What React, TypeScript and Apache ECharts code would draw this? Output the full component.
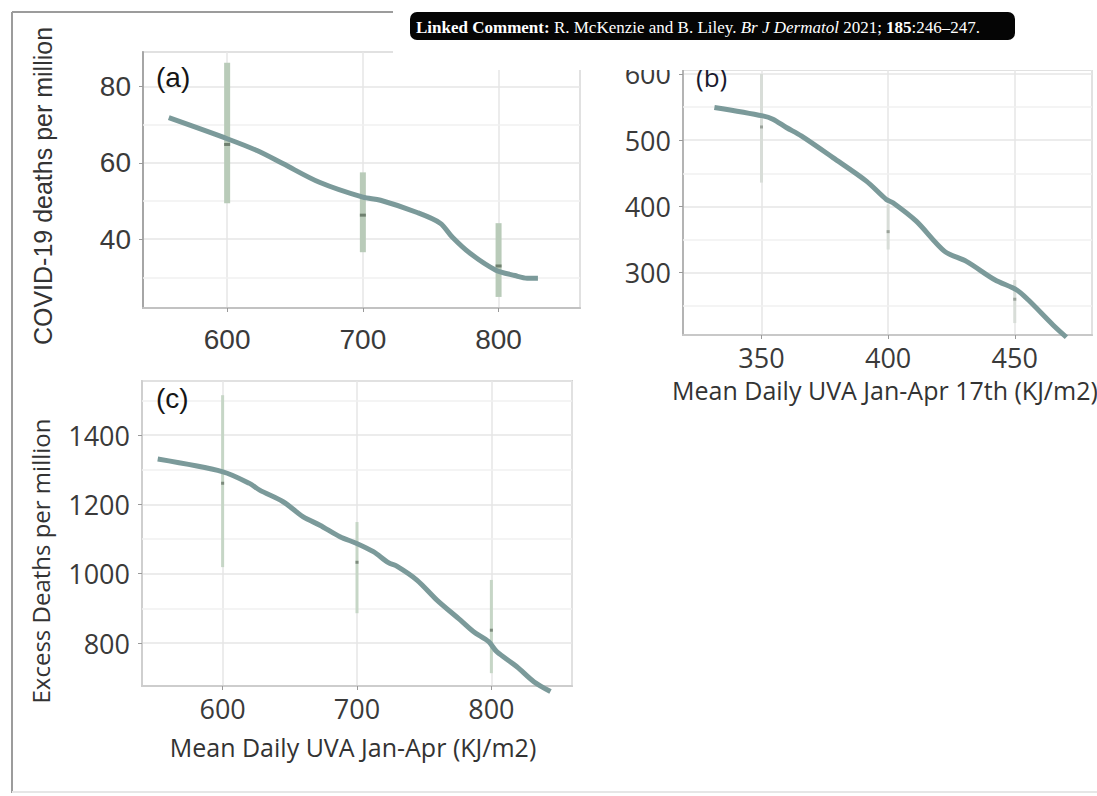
import React, { useEffect, useRef } from "react";
import * as echarts from "echarts";

// ---- Data ----
// Panel (a): COVID-19 deaths per million vs mean daily UVA Jan-Apr
const curveA: number[][] = [
  [557, 71.8], [600, 66.3], [622, 63.2], [641, 59.8], [668, 54.9], [700, 51.0],
  [713, 50.2], [740, 47.0], [757, 44.2], [766, 40.5], [779, 36.3], [798, 31.9],
  [812, 30.5], [821, 29.8], [829, 29.8],
];
// [x, low, high, mean]
const barsA: number[][] = [
  [600, 49.4, 86.2, 64.8],
  [700, 36.6, 57.5, 46.3],
  [800, 24.9, 44.2, 33.0],
];
const minorA = [30, 50, 70];

// Panel (b): vs mean daily UVA Jan-Apr 17th
const curveB: number[][] = [
  [331.4, 549.5], [350.5, 536.8], [354.5, 531.8], [359.8, 519.2], [365.7, 506.5],
  [378.2, 473.8], [391.4, 438.3], [399.3, 410.6], [401.9, 405.6], [411.1, 377.8],
  [422.3, 332.3], [430.9, 317.1], [442.1, 289.4], [450.7, 274.2], [455.3, 259.1],
  [465.1, 221.2], [470.4, 202.6],
];
const barsB: number[][] = [
  [350, 436, 600, 520],
  [400, 335, 403, 362],
  [450, 224, 289, 260],
];
const minorB = [250, 350, 450, 550];

// Panel (c): Excess deaths per million vs mean daily UVA Jan-Apr
const curveC: number[][] = [
  [551.7, 1330.7], [600.2, 1294], [620, 1260.6], [627.6, 1241], [645, 1207.6],
  [660, 1164], [672.4, 1140], [687.3, 1106.6], [699.8, 1087.4], [712.2, 1063.4],
  [723.4, 1031.8], [729.6, 1022], [744.6, 981.7], [759.5, 924], [777, 866],
  [786.8, 832.6], [798, 803.8], [804, 775], [819, 731.7], [831.6, 688.5], [844, 660],
];
const barsC: number[][] = [
  [600, 1019, 1515, 1261],
  [700, 886, 1149, 1033],
  [800, 713, 982, 837],
];
const minorC = [900, 1100, 1300, 1500];

const titleA = "COVID-19 deaths per million";
const titleC = "Excess Deaths per million";
const xTitleB = "Mean Daily UVA Jan-Apr 17th (KJ/m2)";
const xTitleC = "Mean Daily UVA Jan-Apr (KJ/m2)";

const FA = "'Liberation Sans', Arial, sans-serif";
const FB = "'Open Sans', 'Noto Sans', sans-serif";
const CURVE = "#7b9a9a";

function errRender(width: number, color: string, mark: string) {
  return (_params: any, api: any) => {
    const x = api.value(0);
    const lo = api.coord([x, api.value(1)]);
    const hi = api.coord([x, api.value(2)]);
    const mid = api.coord([x, api.value(3)]);
    return {
      type: "group",
      children: [
        {
          type: "rect",
          shape: { x: lo[0] - width / 2, y: hi[1], width, height: lo[1] - hi[1] },
          style: { fill: color },
        },
        {
          type: "rect",
          shape: { x: mid[0] - width / 2, y: mid[1] - 1.5, width, height: 3 },
          style: { fill: mark },
        },
      ],
    };
  };
}

const plain = (v: number) => String(v);

function xAxis(gridIndex: number, min: number, max: number, font: string, size: number, margin: number, lineColor: string) {
  return {
    type: "value",
    gridIndex,
    min,
    max,
    splitNumber: 3,
    axisLine: { show: true, onZero: false, lineStyle: { color: lineColor, width: 2 } },
    axisTick: { show: true, length: 4, lineStyle: { color: "#9a9a9a" } },
    axisLabel: {
      showMinLabel: false,
      showMaxLabel: false,
      margin,
      color: "#3a3a3a",
      fontFamily: font,
      fontSize: size,
      formatter: plain,
    },
    splitLine: { show: true, lineStyle: { color: "#e6e6e6", width: 1.5 } },
  };
}

function yAxis(gridIndex: number, min: number, max: number, split: number, font: string, size: number, lineColor: string) {
  return {
    type: "value",
    gridIndex,
    min,
    max,
    splitNumber: split,
    axisLine: { show: true, onZero: false, lineStyle: { color: lineColor, width: 2 } },
    axisTick: { show: true, length: 4, lineStyle: { color: "#9a9a9a" } },
    axisLabel: {
      showMinLabel: false,
      showMaxLabel: false,
      margin: 12,
      color: "#3a3a3a",
      fontFamily: font,
      fontSize: size,
      formatter: plain,
    },
    splitLine: { show: true, lineStyle: { color: "#e6e6e6", width: 1.5 } },
  };
}

function minorLines(idx: number, values: number[]) {
  return {
    type: "line",
    xAxisIndex: idx,
    yAxisIndex: idx,
    data: [],
    silent: true,
    markLine: {
      silent: true,
      z: 1,
      symbol: "none",
      label: { show: false },
      lineStyle: { color: "#f1f1f1", width: 1.5, type: "solid" },
      data: values.map((v) => ({ yAxis: v })),
    },
  };
}

function curve(idx: number, data: number[][]) {
  return {
    type: "line",
    xAxisIndex: idx,
    yAxisIndex: idx,
    data,
    smooth: 0.3,
    showSymbol: false,
    clip: false,
    z: 4,
    lineStyle: { color: CURVE, width: 5 },
  };
}

function bars(idx: number, data: number[][], width: number, color: string, mark: string) {
  return {
    type: "custom",
    xAxisIndex: idx,
    yAxisIndex: idx,
    data,
    z: 3,
    encode: { x: 0, y: [1, 2] },
    renderItem: errRender(width, color, mark),
  };
}

const gridBase = { show: true, borderColor: "#d2d2d2", borderWidth: 2, backgroundColor: "transparent" };
const SERIF = "'Liberation Serif', 'Times New Roman', serif";
const BANNER_SIZE = 17;

const option: any = {
  animation: false,
  backgroundColor: "#ffffff",
  grid: [
    { ...gridBase, left: 143, top: 52, width: 437, height: 256 },
    { ...gridBase, left: 683, top: 70, width: 409, height: 265 },
    { ...gridBase, left: 142, top: 381, width: 430, height: 305 },
  ],
  xAxis: [
    xAxis(0, 538, 860, FA, 28, 17, "#c2c2c2"),
    xAxis(1, 319, 480.5, FB, 27, 9, "#c8c8c8"),
    xAxis(2, 540, 860, FB, 27, 9, "#cdcdcd"),
  ],
  yAxis: [
    yAxis(0, 22, 89, 3, FA, 28, "#a6a6a6"),
    yAxis(1, 206, 606, 4, FB, 27, "#b4b4b4"),
    yAxis(2, 676, 1556, 4, FB, 27, "#cfcfcf"),
  ],
  series: [
    minorLines(0, minorA),
    minorLines(1, minorB),
    minorLines(2, minorC),
    bars(0, barsA, 6, "#b9cbb9", "#6f806f"),
    bars(1, barsB, 3, "#d8ddd8", "#9aa29a"),
    bars(2, barsC, 3, "#c6d6c6", "#7c8a7c"),
    curve(0, curveA),
    curve(1, curveB),
    curve(2, curveC),
  ],
  graphic: [
    // outer frame of the scanned figure
    { type: "line", shape: { x1: 12, y1: 12, x2: 393, y2: 12 }, style: { stroke: "#9c9c9c", lineWidth: 2 }, z: 50 },
    { type: "line", shape: { x1: 12, y1: 12, x2: 12, y2: 793 }, style: { stroke: "#9c9c9c", lineWidth: 2 }, z: 50 },
    { type: "line", shape: { x1: 12, y1: 792, x2: 1097, y2: 792 }, style: { stroke: "#e6e6e6", lineWidth: 2 }, z: 50 },
    // axis titles
    {
      type: "text", x: 43, y: 186, rotation: Math.PI / 2, z: 50,
      style: { text: titleA, fill: "#333333", fontFamily: FA, fontSize: 25, align: "center", verticalAlign: "middle", textAlign: "center", textVerticalAlign: "middle" },
    },
    {
      type: "text", x: 40, y: 561, rotation: Math.PI / 2, z: 50,
      style: { text: titleC, fill: "#333333", fontFamily: FB, fontSize: 24, align: "center", verticalAlign: "middle", textAlign: "center", textVerticalAlign: "middle" },
    },
    {
      type: "text", x: 672, y: 390, z: 50,
      style: { text: xTitleB, fill: "#333333", fontFamily: FB, fontSize: 25, align: "left", verticalAlign: "middle", textAlign: "left", textVerticalAlign: "middle" },
    },
    {
      type: "text", x: 353, y: 747, z: 50,
      style: { text: xTitleC, fill: "#333333", fontFamily: FB, fontSize: 25, align: "center", verticalAlign: "middle", textAlign: "center", textVerticalAlign: "middle" },
    },
    // panel tags
    { type: "text", x: 156, y: 63, z: 50, style: { text: "(a)", fill: "#151515", fontFamily: FA, fontSize: 28, align: "left", verticalAlign: "top", textAlign: "left", textVerticalAlign: "top" } },
    { type: "text", x: 156, y: 384, z: 50, style: { text: "(c)", fill: "#151515", fontFamily: FA, fontSize: 28, align: "left", verticalAlign: "top", textAlign: "left", textVerticalAlign: "top" } },
    { type: "text", x: 696, y: 64, z: 50, style: { text: "(b)", fill: "#1a1a2e", fontFamily: FB, fontSize: 26, align: "left", verticalAlign: "top", textAlign: "left", textVerticalAlign: "top" } },
    // white patch over the top-right of the scan
    { type: "rect", shape: { x: 393, y: 0, width: 704, height: 70 }, style: { fill: "#ffffff" }, z: 90 },
    // linked comment banner
    { type: "rect", shape: { x: 410, y: 12, width: 605, height: 28, r: 7 }, style: { fill: "#050505" }, z: 95 },
    {
      type: "text", x: 416, y: 27, z: 96,
      style: {
        text: "{b|Linked Comment:} R. McKenzie and B. Liley. {i|Br J Dermatol} 2021; {b|185}:246–247.",
        fill: "#ffffff",
        fontFamily: SERIF,
        fontSize: BANNER_SIZE,
        align: "left", verticalAlign: "middle", textAlign: "left", textVerticalAlign: "middle",
        rich: {
          b: { fontWeight: "bold", fill: "#ffffff", fontFamily: SERIF, fontSize: BANNER_SIZE },
          i: { fontStyle: "italic", fill: "#ffffff", fontFamily: SERIF, fontSize: BANNER_SIZE },
        },
      },
    },
  ],
};

export default function App() {
  const ref = useRef<HTMLDivElement>(null);
  useEffect(() => {
    document.body.style.margin = "0";
    const chart = echarts.init(ref.current!, null, { renderer: "svg" });
    chart.setOption(option);
    return () => chart.dispose();
  }, []);
  return <div ref={ref} style={{ width: 1097, height: 796 }} />;
}
